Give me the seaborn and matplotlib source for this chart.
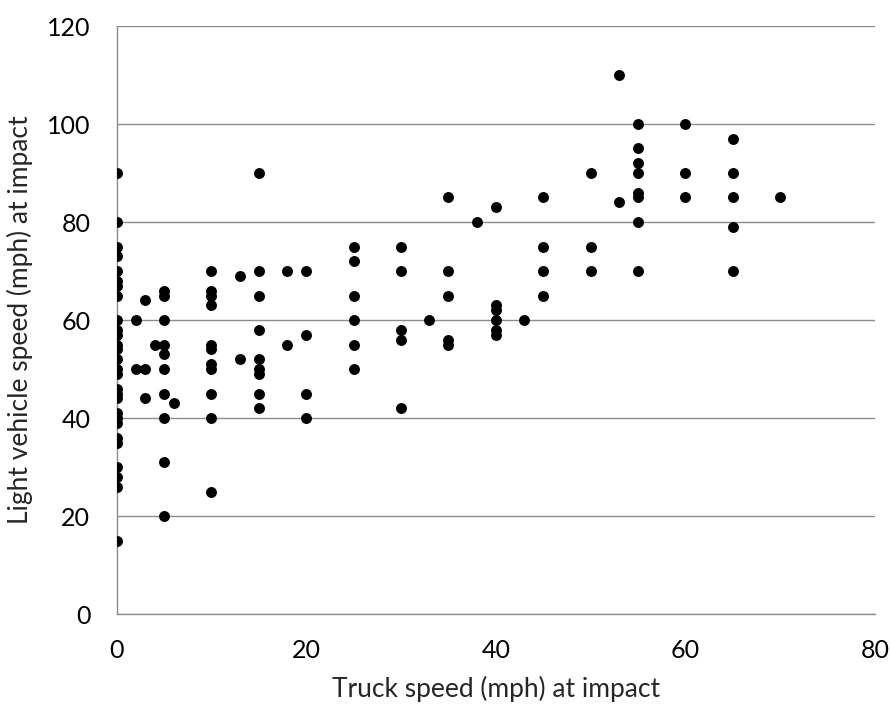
import matplotlib
matplotlib.use("Agg")
import matplotlib.pyplot as plt
import seaborn as sns
import pandas as pd

# Truck speed (mph) at impact, grouped by value; paired with light-vehicle speeds below
truck_speed = (
    [0] * 28
    + [2] * 2
    + [3] * 3
    + [4] * 1
    + [5] * 10
    + [6] * 1
    + [10] * 11
    + [13] * 2
    + [15] * 9
    + [18] * 2
    + [20] * 4
    + [25] * 6
    + [30] * 5
    + [33] * 1
    + [35] * 5
    + [38] * 1
    + [40] * 6
    + [43] * 1
    + [45] * 4
    + [50] * 3
    + [53] * 2
    + [55] * 8
    + [60] * 3
    + [65] * 5
    + [70] * 1
)

light_vehicle_speed = (
    [90, 80, 75, 73, 70, 68, 67, 65, 60, 58, 57, 55, 54, 52, 50, 49, 46, 45, 44,
     41, 40, 39, 36, 35, 30, 28, 26, 15]
    + [60, 50]
    + [64, 50, 44]
    + [55]
    + [66, 65, 60, 55, 53, 50, 45, 40, 31, 20]
    + [43]
    + [70, 66, 65, 63, 55, 54, 51, 50, 45, 40, 25]
    + [69, 52]
    + [90, 70, 65, 58, 52, 50, 49, 45, 42]
    + [70, 55]
    + [70, 57, 45, 40]
    + [75, 72, 65, 60, 55, 50]
    + [75, 70, 58, 56, 42]
    + [60]
    + [85, 70, 65, 56, 55]
    + [80]
    + [83, 63, 62, 60, 58, 57]
    + [60]
    + [85, 75, 70, 65]
    + [90, 75, 70]
    + [110, 84]
    + [100, 95, 92, 90, 86, 85, 80, 70]
    + [100, 90, 85]
    + [97, 90, 85, 79, 70]
    + [85]
)

x_ticks = [0, 20, 40, 60, 80]
y_ticks = [0, 20, 40, 60, 80, 100, 120]
x_label = "Truck speed (mph) at impact"
y_label = "Light vehicle speed (mph) at impact"

df = pd.DataFrame({"truck": truck_speed, "light": light_vehicle_speed})

sns.set_style("white")
plt.rcParams["font.family"] = ["Lato", "DejaVu Sans"]

fig = plt.figure(figsize=(8.91, 7.04), dpi=100)
ax = fig.add_axes([116.7 / 891, 1 - 614 / 704, (875 - 116.7) / 891, (614 - 26) / 704])

grid_color = "#8c8c8c"
ax.set_axisbelow(True)
ax.yaxis.grid(True, color=grid_color, linewidth=1.0)
ax.xaxis.grid(False)

sns.scatterplot(data=df, x="truck", y="light", ax=ax, color="black",
                s=62, edgecolor="black", linewidth=0, zorder=3, legend=False)

ax.set_xlim(0, 80)
ax.set_ylim(0, 120)
ax.set_xticks(x_ticks)
ax.set_yticks(y_ticks)
ax.set_xticklabels([str(v) for v in x_ticks])
ax.set_yticklabels([str(v) for v in y_ticks])

for side in ("top", "right"):
    ax.spines[side].set_visible(False)
for side in ("left", "bottom"):
    ax.spines[side].set_color(grid_color)
    ax.spines[side].set_linewidth(1.0)

ax.tick_params(axis="both", direction="out", length=6, width=1.0,
               color=grid_color, labelsize=18, labelcolor="black")
ax.tick_params(axis="x", pad=12)
ax.tick_params(axis="y", pad=13)

ax.set_xlabel(x_label, fontsize=19, labelpad=10)
ax.set_ylabel(y_label, fontsize=19, labelpad=10)

fig.savefig("out.png", dpi=100)
